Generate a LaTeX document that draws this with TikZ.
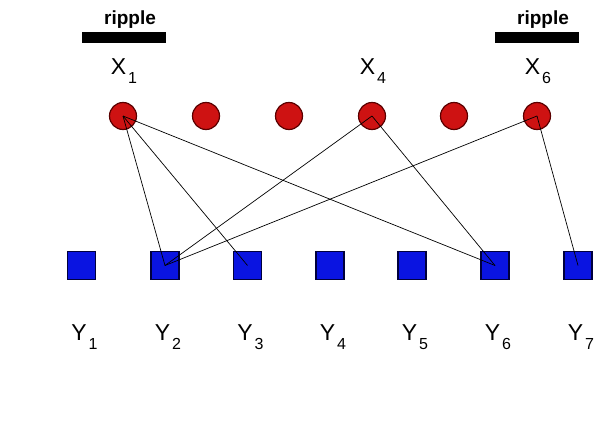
\documentclass[tikz,border=0pt]{standalone}
\usepackage{fontspec}
\setmainfont{Liberation Sans}
\usepackage{tikz}
\usetikzlibrary{positioning}
\definecolor{xred}{RGB}{206,18,18}
\definecolor{xredline}{RGB}{90,0,0}
\definecolor{yblue}{RGB}{10,20,225}
\definecolor{yblueline}{RGB}{0,0,60}

\begin{document}
\begin{tikzpicture}[x=1pt, y=-1pt,
		xnode/.style={draw=xredline, circle, fill=xred, minimum size=27pt, inner sep=0pt, line width=1.2pt},
		ynode/.style={draw=yblueline, rectangle, fill=yblue, minimum size=28pt, inner sep=0pt, line width=1.2pt},
		lab/.style={anchor=base, inner sep=0pt, font=\fontsize{23}{23}\selectfont},
		barbox/.style={fill=black, rectangle, minimum width=84pt, minimum height=11pt, inner sep=0pt},
		edge/.style={black, line width=0.7pt}]
		\useasboundingbox (0,0) rectangle (605,423);

		% bit nodes
		\foreach \i/\x in {1/123,2/206,3/289,4/372,5/454,6/537}
			\node[xnode] (x\i) at (\x,116) {};
		% check nodes
		\foreach \i/\x in {1/81.5,2/165,3/247.5,4/330,5/412,6/495,7/578}
			\node[ynode] (y\i) at (\x,265.5) {};

		% labels
		\foreach \i/\x in {1/123,4/372,6/537}
			\node[lab] (lx\i) at (\x+1,74) {X\hspace{2pt}\raisebox{-9pt}{\fontsize{16}{16}\selectfont\i}};
		\foreach \i/\x in {1/81.5,2/165,3/247.5,4/330,5/412,6/495,7/578}
			\node[lab] (ly\i) at (\x+3,340) {Y\hspace{2pt}\raisebox{-9pt}{\fontsize{16}{16}\selectfont\i}};

		% ripple
		\node[barbox] (bar1) at (124,37.5) {};
		\node[barbox] (bar6) at (537,37.5) {};
		\node[anchor=base, inner sep=0pt, font=\bfseries\fontsize{19}{19}\selectfont] (rip1) at (130,24) {ripple};
		\node[anchor=base, inner sep=0pt, font=\bfseries\fontsize{19}{19}\selectfont] (rip6) at (543,24) {ripple};

		% edges
		\draw[edge] (x1.center) -- (y2.center);
		\draw[edge] (x1.center) -- (y3.center);
		\draw[edge] (x1.center) -- (y6.center);
		\draw[edge] (x4.center) -- (y2.center);
		\draw[edge] (x4.center) -- (y6.center);
		\draw[edge] (x6.center) -- (y2.center);
		\draw[edge] (x6.center) -- (y7.center);
	\end{tikzpicture}
\end{document}
